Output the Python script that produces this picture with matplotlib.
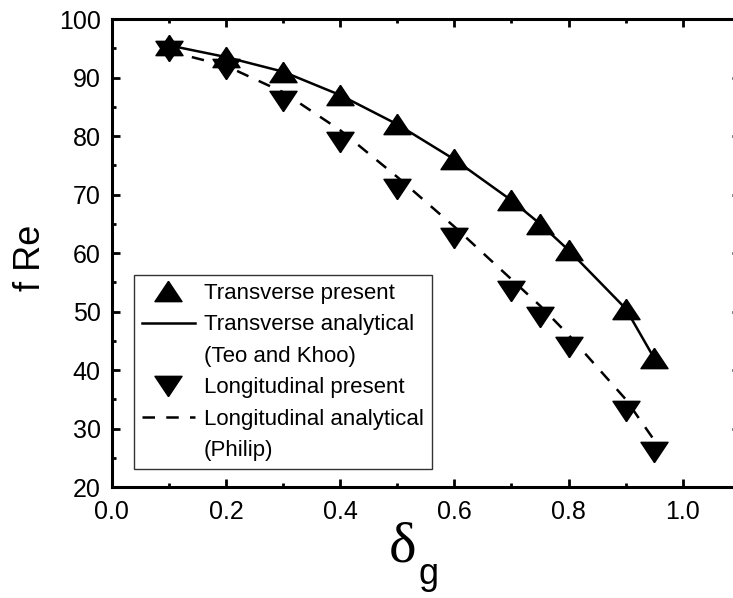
import matplotlib
matplotlib.use("Agg")
import matplotlib.pyplot as plt
from matplotlib.lines import Line2D
from matplotlib.ticker import MultipleLocator, FormatStrFormatter

# valores
delta_g = [0.1, 0.2, 0.3, 0.4, 0.5, 0.6, 0.7, 0.75, 0.8, 0.9, 0.95]
fre_trans_present = [95.5, 93.5, 91.0, 87.0, 82.0, 76.0, 69.0, 65.0, 60.5, 50.5, 42.0]
fre_trans_analytical = [95.5, 93.5, 91.0, 87.0, 82.0, 76.0, 69.0, 65.0, 60.5, 50.5, 42.0]
fre_long_present = [94.5, 91.5, 86.0, 79.0, 71.0, 62.5, 53.5, 49.0, 44.0, 33.0, 26.0]
fre_long_analytical = [94.5, 92.0, 87.5, 81.0, 73.0, 64.5, 55.5, 51.0, 46.0, 35.0, 28.0]

etiquetas = ["Transverse present", "Transverse analytical", "(Teo and Khoo)",
             "Longitudinal present", "Longitudinal analytical", "(Philip)"]

plt.rcParams['font.family'] = ['Liberation Sans', 'DejaVu Sans']

# triangulos mas anchos que altos, como en Origin
tri_up = [(0, 0.75), (-1, -0.75), (1, -0.75), (0, 0.75)]
tri_down = [(0, -0.75), (-1, 0.75), (1, 0.75), (0, -0.75)]
ms = 19.5
guiones = (0, (5, 4.5))

fig = plt.figure(figsize=(7.33, 5.98), dpi=100)
# el eje derecho queda fuera de la imagen, igual que en el original
ax = fig.add_axes([0.1524, 0.1856, 0.857, 0.7826])

ax.plot(delta_g, fre_trans_analytical, color='black', lw=1.8, zorder=2)
ax.plot(delta_g, fre_long_analytical, color='black', lw=1.8,
        linestyle=guiones, zorder=2)
ax.plot(delta_g, fre_trans_present, linestyle='none', marker=tri_up,
        ms=ms, color='black', zorder=3)
ax.plot(delta_g, fre_long_present, linestyle='none', marker=tri_down,
        ms=ms, color='black', zorder=3)

ax.set_xlim(0, 1.1)
ax.set_ylim(20, 100)
ax.xaxis.set_minor_locator(MultipleLocator(0.1))
ax.yaxis.set_major_locator(MultipleLocator(10))
ax.yaxis.set_minor_locator(MultipleLocator(5))
ax.set_xticks([0.0, 0.2, 0.4, 0.6, 0.8, 1.0])
ax.xaxis.set_major_formatter(FormatStrFormatter('%.1f'))

ax.tick_params(which='both', direction='in', top=True, right=True,
               width=2, labelsize=18, colors='black')
ax.tick_params(which='major', length=6)
ax.tick_params(which='minor', length=3)
ax.tick_params(axis='x', which='major', pad=9)
ax.tick_params(axis='y', which='major', pad=8)
for s in ax.spines.values():
    s.set_linewidth(2.2)

# titulo del eje y
fig.text(30 / 733, 1 - 258 / 598, "f Re", fontsize=26, rotation=90,
         ha='center', va='center')

# etiqueta del eje x: delta grande (serif) con subindice g
fig.text(403 / 733, 1 - 561 / 598, "\u03b4", family='Liberation Serif',
         fontsize=42, ha='center', va='baseline')
fig.text(429 / 733, 1 - 584 / 598, "g", fontsize=26, ha='center',
         va='baseline')

handles = [
    Line2D([], [], linestyle='none', marker=tri_up, ms=ms, color='black'),
    Line2D([], [], color='black', lw=1.8),
    Line2D([], [], linestyle='none'),
    Line2D([], [], linestyle='none', marker=tri_down, ms=ms, color='black'),
    Line2D([], [], color='black', lw=1.8, linestyle=guiones),
    Line2D([], [], linestyle='none'),
]
leg = ax.legend(handles, etiquetas, loc='lower left',
                bbox_to_anchor=(0.0355, 0.0385), borderaxespad=0,
                fontsize=16, frameon=True, fancybox=False, edgecolor='black',
                handlelength=2.4, handletextpad=0.4, labelspacing=0.47,
                borderpad=0.35)
leg.get_frame().set_linewidth(1.0)

fig.savefig("out.png", dpi=100)
